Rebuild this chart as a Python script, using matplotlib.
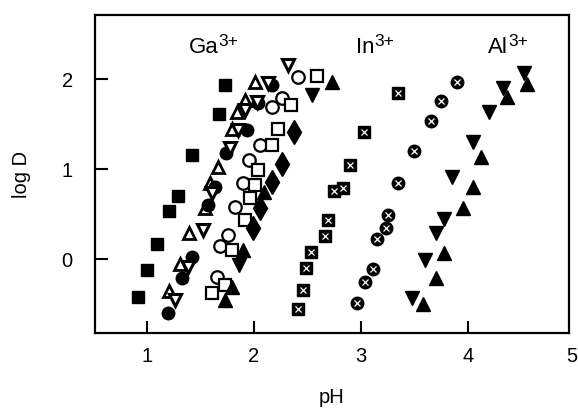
import matplotlib
matplotlib.use('Agg')
import matplotlib.pyplot as plt

plt.rcParams['font.family'] = ['Liberation Sans', 'DejaVu Sans']

# Ga3+ series
ga_sq_filled_x = [1.73, 1.67, 1.42, 1.29, 1.21, 1.09, 1.00, 0.92]
ga_sq_filled_y = [1.93, 1.61, 1.16, 0.70, 0.53, 0.17, -0.12, -0.42]

ga_tri_open_x = [2.01, 1.92, 1.84, 1.79, 1.66, 1.59, 1.54, 1.39, 1.31, 1.21]
ga_tri_open_y = [1.97, 1.77, 1.64, 1.45, 1.02, 0.84, 0.57, 0.29, -0.05, -0.36]

ga_tridown_open_x = [2.32, 2.13, 2.03, 1.92, 1.85, 1.78, 1.61, 1.52, 1.38, 1.26]
ga_tridown_open_y = [2.16, 1.96, 1.75, 1.66, 1.43, 1.23, 0.73, 0.32, -0.09, -0.46]

ga_circ_filled_x = [2.17, 2.04, 1.93, 1.74, 1.64, 1.57, 1.42, 1.33, 1.20]
ga_circ_filled_y = [1.94, 1.73, 1.43, 1.18, 0.80, 0.60, 0.02, -0.21, -0.60]

ga_circ_open_x = [2.41, 2.26, 2.17, 2.06, 1.95, 1.90, 1.82, 1.76, 1.68, 1.65]
ga_circ_open_y = [2.02, 1.79, 1.69, 1.27, 1.10, 0.84, 0.58, 0.27, 0.15, -0.20]

ga_sq_open_x = [2.59, 2.35, 2.22, 2.17, 2.04, 2.01, 1.96, 1.92, 1.79, 1.73, 1.61]
ga_sq_open_y = [2.03, 1.71, 1.45, 1.27, 0.99, 0.82, 0.68, 0.43, 0.10, -0.29, -0.38]

ga_tri_filled_x = [2.73, 2.09, 1.90, 1.79, 1.73]
ga_tri_filled_y = [1.97, 0.75, 0.10, -0.31, -0.46]

ga_tridown_filled_x = [2.54, 1.86]
ga_tridown_filled_y = [1.82, -0.07]

ga_diamond_x = [2.37, 2.26, 2.17, 2.06, 1.99]
ga_diamond_y = [1.41, 1.06, 0.86, 0.57, 0.34]

# In3+ series
in_sq_x = [3.35, 3.03, 2.90, 2.83, 2.75, 2.69, 2.66, 2.53, 2.49, 2.46, 2.41]
in_sq_y = [1.85, 1.41, 1.05, 0.79, 0.76, 0.43, 0.26, 0.08, -0.10, -0.34, -0.55]

in_circ_x = [3.90, 3.75, 3.65, 3.50, 3.35, 3.25, 3.23, 3.15, 3.11, 3.04, 2.96]
in_circ_y = [1.97, 1.76, 1.53, 1.20, 0.84, 0.49, 0.34, 0.22, -0.11, -0.25, -0.49]

# Al3+ series
al_down_x = [4.52, 4.33, 4.20, 4.05, 3.85, 3.78, 3.70, 3.60, 3.48]
al_down_y = [2.07, 1.90, 1.63, 1.30, 0.91, 0.44, 0.29, -0.01, -0.43]

al_up_x = [4.55, 4.36, 4.12, 4.05, 3.95, 3.78, 3.70, 3.58]
al_up_y = [1.95, 1.80, 1.13, 0.80, 0.57, 0.07, -0.21, -0.50]

ion_names = ['Ga', 'In', 'Al']
ion_charge = '3+'
ion_label_x = [1.39, 2.95, 4.19]

fig = plt.figure(figsize=(5.78, 4.08), dpi=100)
ax = fig.add_axes([0.1644, 0.1838, 0.820, 0.779])

ms = 9
ax.plot(ga_sq_filled_x, ga_sq_filled_y, 's', color='black', ms=ms)
ax.plot(ga_tri_open_x, ga_tri_open_y, '^', mfc='white', mec='black', mew=2, ms=ms)
ax.plot(ga_circ_filled_x, ga_circ_filled_y, 'o', color='black', ms=ms)
ax.plot(ga_tridown_open_x, ga_tridown_open_y, 'v', mfc='white', mec='black', mew=2.2, ms=ms)
ax.plot(ga_circ_open_x, ga_circ_open_y, 'o', mfc='white', mec='black', mew=1.6, ms=ms)
ax.plot(ga_sq_open_x, ga_sq_open_y, 's', mfc='white', mec='black', mew=1.6, ms=ms)
ax.plot(ga_tri_filled_x, ga_tri_filled_y, '^', color='black', ms=ms + 1)
ax.plot(ga_tridown_filled_x, ga_tridown_filled_y, 'v', color='black', ms=ms + 1)
ax.plot(ga_diamond_x, ga_diamond_y, 'd', color='black', ms=ms + 3)

# shaded markers: black with small white pattern
ax.plot(in_sq_x, in_sq_y, 's', color='black', ms=ms)
ax.plot(in_sq_x, in_sq_y, 'x', color='white', ms=4, mew=0.9)
ax.plot(in_circ_x, in_circ_y, 'o', color='black', ms=ms)
ax.plot(in_circ_x, in_circ_y, 'x', color='white', ms=4, mew=0.9)

ax.plot(al_down_x, al_down_y, 'v', color='black', ms=ms + 1)
ax.plot(al_up_x, al_up_y, '^', color='black', ms=ms + 1)

# ion labels with a large superscript charge
for name, lx in zip(ion_names, ion_label_x):
    t = ax.text(lx, 2.29, name, fontsize=16, ha='left', va='baseline')
    ax.annotate(ion_charge, xy=(1.0, 0.45), xycoords=t, fontsize=12.5,
                ha='left', va='bottom')

ax.set_xlim(0.514, 4.944)
ax.set_ylim(-0.822, 2.711)
ax.set_xticks([1, 2, 3, 4])
ax.set_yticks([0, 1, 2])
ax.tick_params(direction='in', length=9, width=1.5, labelsize=14.5)
ax.tick_params(axis='x', pad=10)
ax.tick_params(axis='y', pad=16)
# the "5" label sits just past the right edge of the frame
ax.annotate('5', xy=(4.97, 0), xycoords=('data', 'axes fraction'),
            xytext=(0, -10), textcoords='offset points', ha='center', va='top',
            fontsize=14.5, annotation_clip=False)
for s in ax.spines.values():
    s.set_linewidth(1.6)

ax.set_xlabel('pH', fontsize=14.5, labelpad=16)
ax.set_ylabel('log D', fontsize=14.5, labelpad=22)

plt.savefig('out.png', dpi=100)
plt.close()
